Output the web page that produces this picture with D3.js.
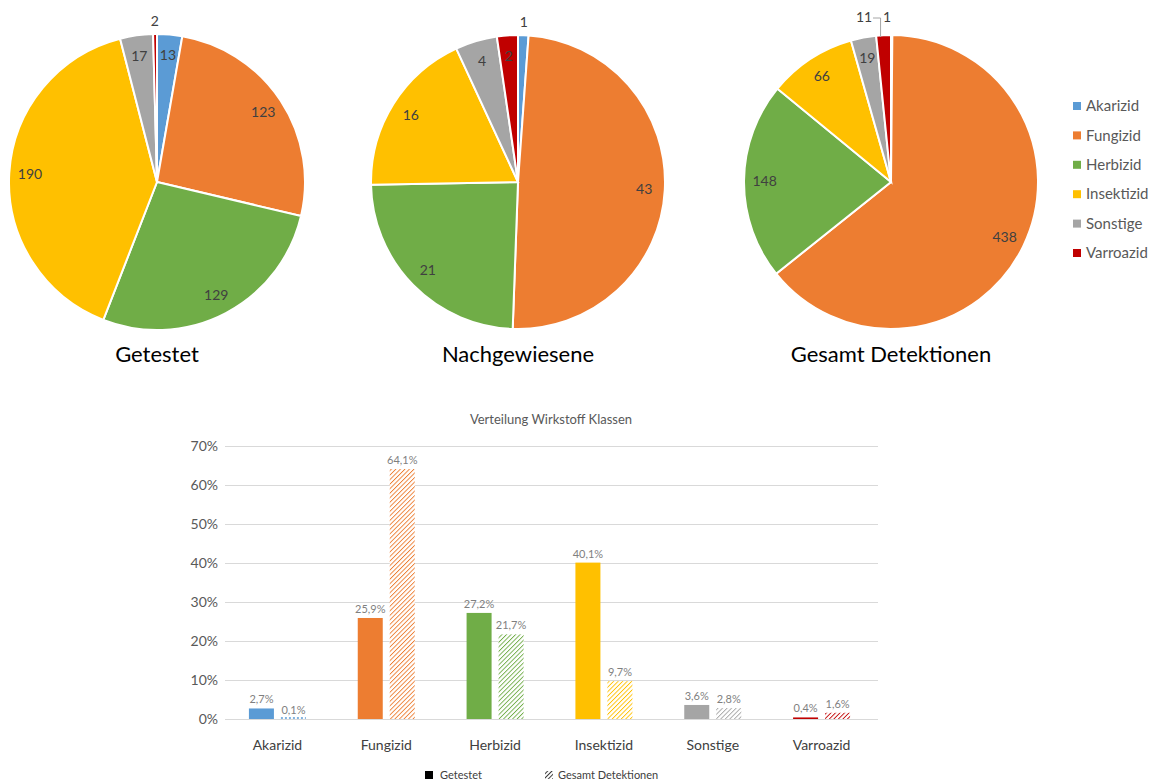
<!DOCTYPE html>
<html>
<head>
<meta charset="utf-8">
<script src="https://cdn.jsdelivr.net/npm/d3@7"></script>
<style>
  body { margin: 0; background: #fff; }
  svg { font-family: Lato, "Open Sans", sans-serif; }
</style>
</head>
<body>
<svg id="chart" width="1162" height="783"></svg>
<script>
const classes = ["Akarizid", "Fungizid", "Herbizid", "Insektizid", "Sonstige", "Varroazid"];
const colors = ["#5b9bd5", "#ed7d31", "#70ad47", "#ffc000", "#a5a5a5", "#c00000"];

const pieTitles = ["Getestet", "Nachgewiesene", "Gesamt Detektionen"];
const getestetCounts = [13, 123, 129, 190, 17, 2];
const nachgewiesenCounts = [1, 43, 21, 16, 4, 2];
const gesamtCounts = [1, 438, 148, 66, 19, 11];

const barTitle = "Verteilung Wirkstoff Klassen";
const seriesNames = ["Getestet", "Gesamt Detektionen"];
const getestetPct = [2.7, 25.9, 27.2, 40.1, 3.6, 0.4];
const gesamtPct = [0.1, 64.1, 21.7, 9.7, 2.8, 1.6];
const yTicks = [0, 10, 20, 30, 40, 50, 60, 70];

const svg = d3.select("#chart");
const de = d3.formatLocale({ decimal: ",", thousands: ".", grouping: [3], currency: ["", " €"] });
const pctFmt = de.format(".1f");

// hatch patterns for the second series
const defs = svg.append("defs");
colors.forEach((c, i) => {
    const p = defs.append("pattern")
        .attr("id", "hatch" + i)
        .attr("patternUnits", "userSpaceOnUse")
        .attr("width", 3.2).attr("height", 3.2)
        .attr("patternTransform", "rotate(45)");
    p.append("rect").attr("width", 3.2).attr("height", 3.2).attr("fill", "#fff");
    p.append("line").attr("x1", 0).attr("y1", 0).attr("x2", 0).attr("y2", 3.2)
        .attr("stroke", c).attr("stroke-width", 1.8);
});
defs.append("pattern").attr("id", "hatchK").attr("patternUnits", "userSpaceOnUse")
    .attr("width", 3).attr("height", 3).attr("patternTransform", "rotate(45)")
    .append("line").attr("x1", 0).attr("y1", 0).attr("x2", 0).attr("y2", 3)
    .attr("stroke", "#000").attr("stroke-width", 1.5);

// ---- pies ----
const pies = [
    { counts: getestetCounts, cx: 157, cy: 182, r: 148 },
    { counts: nachgewiesenCounts, cx: 518, cy: 182, r: 147 },
    { counts: gesamtCounts, cx: 891, cy: 182, r: 147 }
];

const pie = d3.pie().sort(null).value(d => d);

pies.forEach((p, pi) => {
    const g = svg.append("g").attr("transform", `translate(${p.cx},${p.cy})`);
    const arcs = pie(p.counts);
    const arc = d3.arc().innerRadius(0).outerRadius(p.r);
    const total = d3.sum(p.counts);

    g.selectAll("path").data(arcs).join("path")
        .attr("d", arc)
        .attr("fill", (d, i) => colors[i])
        .attr("stroke", "#fff")
        .attr("stroke-width", 2);

    arcs.forEach((d, i) => {
        const frac = d.value / total;
        const mid = (d.startAngle + d.endAngle) / 2;
        let rr = frac < 0.02 ? p.r + 13 : p.r * 0.86;
        let lx = Math.sin(mid) * rr;
        let ly = -Math.cos(mid) * rr;
        // two tiny slices at the top of the third pie would overlap
        if (pi === 2 && i === 5) {
            lx = -27; ly = -165;
            g.append("path")
                .attr("d", `M${lx + 9},${ly + 1}H${Math.sin(mid) * p.r - 3}V${-p.r + 2}`)
                .attr("fill", "none").attr("stroke", "#a6a6a6").attr("stroke-width", 1);
        }
        if (pi === 2 && i === 0) { lx = -4; ly = -165; }
        g.append("text")
            .attr("x", lx).attr("y", ly)
            .attr("dy", "0.35em")
            .attr("text-anchor", "middle")
            .attr("font-size", 14)
            .attr("fill", "#404040")
            .text(d.value);
    });

    svg.append("text")
        .attr("x", p.cx).attr("y", 362)
        .attr("text-anchor", "middle")
        .attr("font-size", 22)
        .attr("fill", "#000")
        .text(pieTitles[pi]);
});

// pie legend
const leg = svg.append("g").attr("transform", "translate(1073,106)");
classes.forEach((c, i) => {
    const row = leg.append("g").attr("transform", `translate(0,${i * 29.4})`);
    row.append("rect").attr("x", 0).attr("y", -4).attr("width", 8).attr("height", 8).attr("fill", colors[i]);
    row.append("text").attr("x", 13).attr("dy", "0.35em")
        .attr("font-size", 15).attr("fill", "#595959").text(c);
});

// ---- bar chart ----
const plotLeft = 225, plotRight = 878, plotTop = 446, plotBottom = 719;
const x = d3.scaleBand().domain(classes).range([plotLeft, plotRight]);
const y = d3.scaleLinear().domain([0, 70]).range([plotBottom, plotTop]);

svg.append("text")
    .attr("x", 551).attr("y", 424)
    .attr("text-anchor", "middle")
    .attr("font-size", 13)
    .attr("fill", "#595959")
    .text(barTitle);

const yAxis = svg.append("g")
    .attr("transform", `translate(${plotLeft},0)`)
    .call(d3.axisLeft(y).tickValues(yTicks).tickSize(-(plotRight - plotLeft)).tickFormat(d => d + "%"));
yAxis.select(".domain").remove();
yAxis.selectAll(".tick line").attr("stroke", "#d9d9d9");
yAxis.selectAll(".tick text")
    .attr("x", -7)
    .attr("font-size", 14)
    .attr("font-family", "Lato, sans-serif")
    .attr("fill", "#595959");

const barW = 25, gap = 7;
const bars = svg.append("g");
classes.forEach((c, i) => {
    const cxm = x(c) + x.bandwidth() / 2 - 2;
    const x1 = cxm - gap / 2 - barW;
    const x2 = cxm + gap / 2;
    const v1 = getestetPct[i], v2 = gesamtPct[i];

    bars.append("rect")
        .attr("x", x1).attr("y", y(v1))
        .attr("width", barW).attr("height", y(0) - y(v1))
        .attr("fill", colors[i]);

    if (v2 < 0.5) {
        bars.append("line")
            .attr("x1", x2).attr("x2", x2 + barW)
            .attr("y1", y(0) - 1).attr("y2", y(0) - 1)
            .attr("stroke", colors[i]).attr("stroke-width", 1.5)
            .attr("stroke-dasharray", "2,2");
    } else {
        bars.append("rect")
            .attr("x", x2).attr("y", y(v2))
            .attr("width", barW).attr("height", y(0) - y(v2))
            .attr("fill", `url(#hatch${i})`);
    }

    [[x1, v1], [x2, v2]].forEach(([bx, v]) => {
        bars.append("text")
            .attr("x", bx + barW / 2).attr("y", y(v) - 5)
            .attr("text-anchor", "middle")
            .attr("font-size", 11)
            .attr("fill", "#7f7f7f")
            .text(pctFmt(v) + "%");
    });
});

svg.append("g").selectAll("text").data(classes).join("text")
    .attr("x", d => x(d) + x.bandwidth() / 2 - 2)
    .attr("y", 750)
    .attr("text-anchor", "middle")
    .attr("font-size", 14)
    .attr("fill", "#404040")
    .text(d => d);

// bottom legend
const bl = svg.append("g").attr("transform", "translate(0,775)");
bl.append("rect").attr("x", 425).attr("y", -4).attr("width", 8).attr("height", 8).attr("fill", "#000");
bl.append("text").attr("x", 440).attr("dy", "0.35em").attr("font-size", 11).attr("fill", "#404040").text(seriesNames[0]);
bl.append("rect").attr("x", 545).attr("y", -4).attr("width", 8).attr("height", 8).attr("fill", "url(#hatchK)");
bl.append("text").attr("x", 558).attr("dy", "0.35em").attr("font-size", 11).attr("fill", "#404040").text(seriesNames[1]);
</script>
</body>
</html>
